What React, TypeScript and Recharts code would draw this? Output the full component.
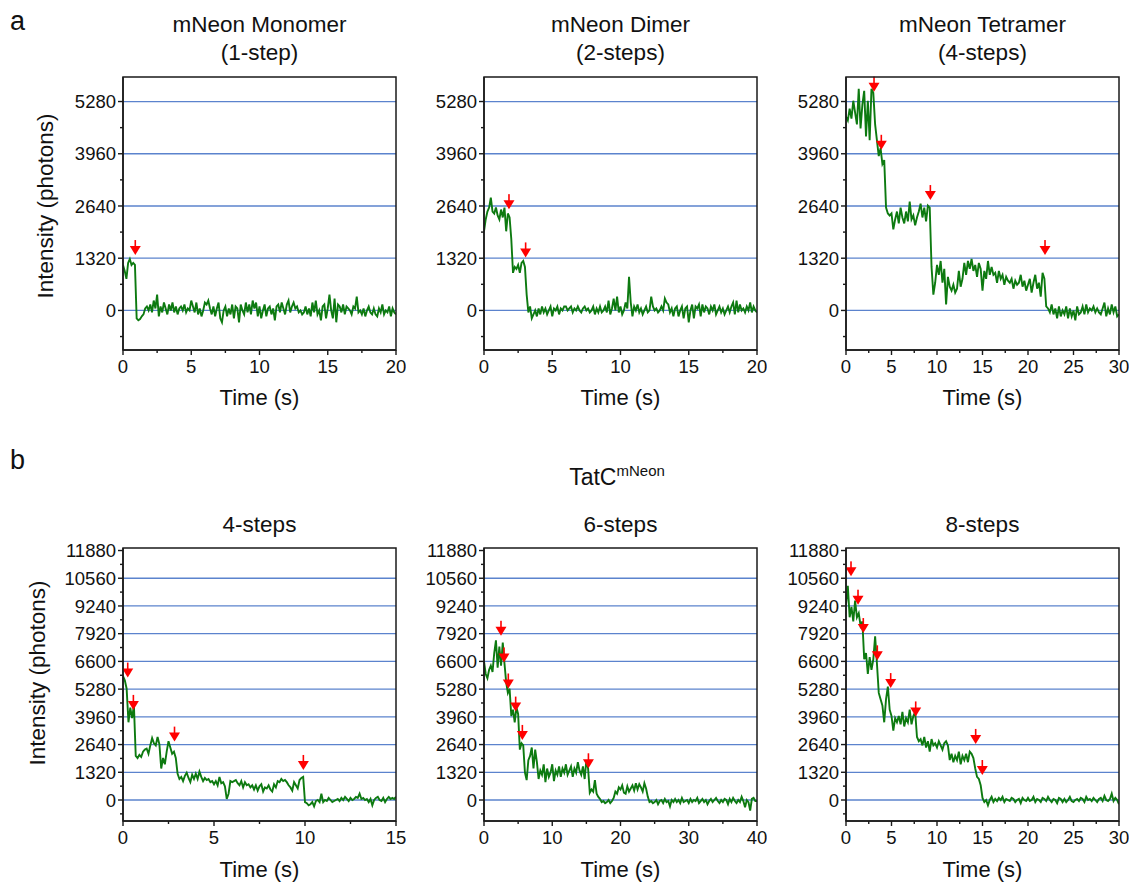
import React from 'react'
import {
  ComposedChart,
  Line,
  XAxis,
  YAxis,
  ReferenceLine,
  ReferenceDot,
} from 'recharts'

// photobleaching traces, photons per frame; time = index * dt
const monomerDt = 0.125
const monomer = [
  1150, 1000, 800, 1200, 1300, 1150, 1200, 1150,
  -200, -250, -220, -150, -100, 50, 100, 0,
  150, -50, 250, 50, 400, -150, 100, -50,
  200, 50, -100, 150, 0, 200, -50, 100,
  -100, 50, 100, 0, 150, -50, 50, 0,
  250, 100, -50, 200, -100, 50, -150, 0,
  200, 150, 250, 50, -100, 100, -150, 50,
  200, -200, -300, 0, 100, -150, 50, -100,
  150, -200, 100, 50, -300, 150, 0, -100,
  200, -50, 150, -100, 250, 50, 200, -150,
  100, -200, 0, 150, -150, 50, 100, -100,
  50, -250, 100, 150, -50, 200, 50, -100,
  150, 250, -50, 100, 200, 50, 100, -50,
  0, -100, -50, 100, -100, 50, -150, 200,
  -50, 250, -100, 0, -250, 100, 150, -200,
  50, 400, 0, -200, 300, -300, 150, 100,
  -50, 150, -100, 100, 50, 0, -100, 100,
  50, 350, -50, 0, -100, 50, -150, 0,
  100, -50, -100, 50, -100, -150, 50, -50,
  150, -100, 0, -50, 100, -150, 50, -50,
  -100,
]

const dimerDt = 0.125
const dimer = [
  2000, 2300, 2500, 2600, 2850, 2500, 2450, 2600,
  2400, 2300, 2550, 2350, 2600, 2000, 2450, 2350,
  1800, 950, 1100, 1050, 1150, 950, 1200, 1250,
  1100, 400, -50, 100, -200, -100, 0, -150,
  50, -100, 100, -50, 50, -100, 0, 100,
  -150, 50, 0, 100, -100, 50, 0, 100,
  100, 0, 50, 100, -50, 50, 0, 100,
  0, -50, 50, 100, 0, 50, -50, 0,
  100, -100, 50, -50, 100, -50, 0, 100,
  -50, 250, -100, 50, 300, 0, 350, -50,
  100, -100, 0, 200, 50, 850, 200, -150,
  100, 0, 150, -50, 50, -100, 0, 100,
  -50, 0, 350, 100, 0, 50, -50, 0,
  100, 0, 300, 200, 150, -50, 50, -150,
  50, 100, -150, 0, 100, -200, 50, 100,
  -300, 0, 150, -200, 100, 50, 150, -150,
  150, -50, 100, 50, -100, 100, 0, 150,
  -100, 0, 100, -50, 50, -100, 0, 100,
  -50, 100, 200, -100, 250, -50, 150, 0,
  50, -50, 100, 0, 200, -50, 100, 0,
  -50,
]

const tetramerDt = 0.2
const tetramer = [
  4900, 4800, 5100, 4850, 5300,
  5000, 4700, 5600, 4600, 5200,
  5550, 4400, 5300, 4300, 5600,
  5500, 4700, 4300, 3900, 4100,
  3700, 3800, 2600, 2450, 2400,
  2450, 2050, 2300, 2500, 2200,
  2600, 2350, 2200, 2500, 2250,
  2750, 2300, 2400, 2150, 2350,
  2500, 2700, 2350, 2600, 2250,
  2650, 2600, 1100, 400, 700,
  1150, 900, 1250, 700, 1050,
  150, 850, 600, 500, 650,
  450, 550, 1000, 600, 800,
  1200, 900, 1250, 1050, 1300,
  1000, 1150, 850, 1200, 1050,
  500, 1000, 800, 1250, 900,
  1100, 900, 950, 700, 1000,
  800, 900, 650, 850, 750,
  700, 800, 550, 750, 650,
  700, 900, 600, 750, 500,
  650, 800, 450, 700, 900,
  550, 700, 350, 950, 800,
  100, 50, -50, 150, -100,
  50, -200, 100, -150, 0,
  -100, 100, -200, 50, -150,
  0, -250, 100, -100, -50,
  100, -100, 150, -50, 50,
  0, 100, -50, 50, -50,
  -100, 50, 200, -150, 50,
  -100, 150, -50, 100, -150,
  -100,
]

const tat4Dt = 0.1
const tat4 = [
  5900, 5700, 5300, 3700, 4400, 3900, 4500, 2100, 2000, 2150,
  2050, 2300, 2400, 2450, 2200, 2600, 2950, 2700, 2600, 3000,
  2650, 1500, 2000, 1700, 2300, 2800, 2500, 2200, 2300, 2000,
  1250, 1000, 1100, 900, 1150, 1300, 1050, 850, 1200, 1000,
  1250, 1000, 1350, 1100, 900, 1050, 950, 1000, 850, 900,
  750, 900, 700, 1100, 800, 850, 650, 50, 300, 900,
  850, 900, 950, 800, 700, 900, 600, 850, 700, 750,
  600, 700, 500, 700, 450, 650, 750, 400, 600, 550,
  700, 500, 400, 750, 600, 900, 850, 1000, 900, 950,
  850, 700, 600, 450, 850, 700, 550, 950, 1050, 1100,
  -100, -150, -250, -200, -100, -300, -50, 0, -100, 300,
  -100, 0, -50, 100, 0, -100, -50, 0, 50, -50,
  100, 0, 150, 50, -50, 100, 0, 50, 150, 100,
  300, 50, 100, 0, 50, -100, 50, -250, 0, 100,
  150, 0, -50, 100, -100, 50, 150, 50, 100, 50,
  150,
]

const tat6Dt = 0.25
const tat6 = [
  6600, 6000, 5800, 6200, 6400, 6100, 7000, 7600,
  6300, 7300, 6400, 7500, 6500, 5600, 5100, 5300,
  4000, 4300, 3700, 4400, 4100, 2400, 2700, 2600,
  1300, 950, 1900, 2100, 2500, 1500, 2400, 1800,
  1000, 1400, 1200, 1700, 850, 1500, 1100, 1300,
  1700, 900, 1400, 1200, 1600, 1100, 1500, 1300,
  1700, 1200, 1400, 1600, 1100, 1500, 1300, 1800,
  1400, 1200, 1600, 1000, 1900, 1500, 350, 500,
  400, 950, 300, 150, 50, -100, -50, -150,
  -100, 0, -150, -50, 100, 400, 300, 600,
  500, 700, 350, 300, 650, 400, 550, 700,
  450, 800, 500, 750, 600, 400, 800, 550,
  150, -100, -50, -150, -100, 0, -200, -50,
  0, -150, 50, -100, -50, -300, 0, -100,
  50, -100, 0, -150, 100, -100, -50, 0,
  -150, 50, -100, 0, -50, 100, -150, -50,
  50, -100, 0, -200, -50, 50, -100, 0,
  100, -50, -150, 0, -100, 50, 0, -200,
  50, -100, 100, -50, -150, 0, -100, 150,
  -50, -350, 0, -100, -500, 50, 100, -50,
  -50,
]

const tat8Dt = 0.2
const tat8 = [
  9300, 10200, 8700, 9200, 8500,
  9500, 8700, 8900, 8300, 8500,
  6700, 7000, 6000, 6800, 6200,
  6700, 7800, 6500, 5100, 4800,
  4500, 3700, 4800, 5400, 4300,
  4000, 3300, 3900, 3700, 4000,
  3600, 4200, 3500, 3900, 3700,
  4300, 3600, 4000, 4200, 3000,
  2800, 2900, 2600, 3000, 2500,
  2800, 2300, 2900, 2600, 2700,
  2500, 2800, 2600, 2400, 2700,
  2800, 2600, 1900, 2200, 1800,
  2100, 1900, 2300, 1700, 2100,
  1900, 2200, 1800, 2300, 2200,
  2000, 1500, 1100, 1000, 700,
  100, -100, 0, -250, 0,
  150, -100, 50, -50, 100,
  0, 150, -100, 50, 0,
  -50, 100, 50, -100, 0,
  50, -150, 100, 0, -50,
  100, -50, 0, 150, -100,
  50, 0, -100, 100, 50,
  -50, 150, 0, -100, 50,
  0, -150, 100, 50, -100,
  50, -100, 0, 150, -50,
  -100, 0, 50, -50, 100,
  50, -100, 150, 0, 50,
  -50, 100, 0, -100, 50,
  100, -50, 200, 0, -50,
  50, 300, -50, 100, 0,
  -200,
]

// red arrows marking the bleaching steps (time, intensity of arrow tip)
const monomerArrows = [{ t: 0.9, v: 1400 }]
const dimerArrows = [{ t: 1.83, v: 2560 }, { t: 3.05, v: 1340 }]
const tetramerArrows = [
  { t: 3.08, v: 5530 }, { t: 3.88, v: 4060 }, { t: 9.27, v: 2790 }, { t: 21.87, v: 1400 },
]
const tat4Arrows = [
  { t: 0.26, v: 5830 }, { t: 0.57, v: 4290 }, { t: 2.83, v: 2780 }, { t: 9.91, v: 1430 },
]
const tat6Arrows = [
  { t: 2.49, v: 7820 }, { t: 2.93, v: 6550 }, { t: 3.56, v: 5310 },
  { t: 4.64, v: 4210 }, { t: 5.62, v: 2860 }, { t: 15.3, v: 1510 },
]
const tat8Arrows = [
  { t: 0.55, v: 10650 }, { t: 1.32, v: 9300 }, { t: 1.9, v: 7950 }, { t: 3.44, v: 6650 },
  { t: 4.91, v: 5330 }, { t: 7.66, v: 3980 }, { t: 14.25, v: 2670 }, { t: 14.98, v: 1190 },
]

// axes
const gridA = [0, 1320, 2640, 3960, 5280]
const gridB = [0, 1320, 2640, 3960, 5280, 6600, 7920, 9240, 10560]
const yTicksA = [-660, 0, 660, 1320, 1980, 2640, 3300, 3960, 4620, 5280]
const yTicksB = [
  -660, 0, 660, 1320, 1980, 2640, 3300, 3960, 4620, 5280, 5940, 6600,
  7260, 7920, 8580, 9240, 9900, 10560, 11220, 11880,
]
const xTicks20 = [0, 2.5, 5, 7.5, 10, 12.5, 15, 17.5, 20]
const xTicks30 = [0, 2.5, 5, 7.5, 10, 12.5, 15, 17.5, 20, 22.5, 25, 27.5, 30]
const xTicks15 = [0, 2.5, 5, 7.5, 10, 12.5, 15]
const xTicks40 = [0, 5, 10, 15, 20, 25, 30, 35, 40]

const titlesA = [
  ['mNeon Monomer', '(1-step)'],
  ['mNeon Dimer', '(2-steps)'],
  ['mNeon Tetramer', '(4-steps)'],
]
const titlesB = ['4-steps', '6-steps', '8-steps']

const FONT = '"Liberation Sans", Arial, Helvetica, sans-serif'
const GREEN = '#0d7a10'
const BLUE = '#5b83cd'
const INK = '#1a1a1a'
const PLOT = 273
const colLeft = [123, 484, 846]
const rowTop = [77, 548]

function YTick(props: any) {
  const { x, y, payload, major } = props
  const isMajor = Math.abs(payload.value % major) < 1e-6
  return (
    <g>
      <rect x={x - (isMajor ? 5 : 3)} y={y - 0.7} width={isMajor ? 5 : 3} height={1.4} fill={INK} />
      {isMajor && (
        <text x={x - 7} y={y} dy="0.36em" textAnchor="end" fontSize={18.5} fill="#111" fontFamily={FONT}>
          {payload.value}
        </text>
      )}
    </g>
  )
}

function XTick(props: any) {
  const { x, y, payload, major } = props
  const isMajor = Math.abs(payload.value % major) < 1e-6
  return (
    <g>
      <rect x={x - 0.7} y={y} width={1.4} height={isMajor ? 5 : 3} fill={INK} />
      {isMajor && (
        <text x={x} y={y + 23} textAnchor="middle" fontSize={18.5} fill="#111" fontFamily={FONT}>
          {payload.value}
        </text>
      )}
    </g>
  )
}

function Arrow(props: any) {
  const { cx, cy } = props
  return (
    <g>
      <rect x={cx - 0.8} y={cy - 15} width={1.6} height={7} fill="#ff0000" />
      <path d={`M${cx - 5.5},${cy - 9} L${cx + 5.5},${cy - 9} L${cx},${cy} Z`} fill="#ff0000" />
    </g>
  )
}

interface PanelProps {
  values: number[]
  dt: number
  xMax: number
  xTicks: number[]
  xMajor: number
  yDomain: [number, number]
  yTicks: number[]
  grid: number[]
  arrows: { t: number; v: number }[]
  left: number
  top: number
}

function Panel({ values, dt, xMax, xTicks, xMajor, yDomain, yTicks, grid, arrows, left, top }: PanelProps) {
  const data = values.map((v, i) => ({ t: +(i * dt).toFixed(3), v }))
  return (
    <div style={{ position: 'absolute', left: left - 70, top: top - 10 }}>
      <ComposedChart
        width={PLOT + 80}
        height={PLOT + 40}
        data={data}
        margin={{ top: 10, right: 10, left: 10, bottom: 0 }}
      >
        <XAxis
          type="number"
          dataKey="t"
          domain={[0, xMax]}
          ticks={xTicks}
          interval={0}
          height={30}
          axisLine={{ stroke: INK, strokeWidth: 1.5 }}
          tickLine={false}
          tickSize={0}
          tickMargin={0}
          allowDataOverflow
          tick={(p: any) => <XTick {...p} major={xMajor} />}
        />
        <YAxis
          type="number"
          domain={yDomain}
          ticks={yTicks}
          interval={0}
          width={60}
          axisLine={{ stroke: INK, strokeWidth: 1.5 }}
          tickLine={false}
          tickSize={0}
          tickMargin={0}
          allowDataOverflow
          tick={(p: any) => <YTick {...p} major={1320} />}
        />
        <XAxis xAxisId="top" orientation="top" type="number" domain={[0, xMax]} height={0} tick={false} axisLine={{ stroke: INK, strokeWidth: 1.5 }} />
        <YAxis yAxisId="right" orientation="right" type="number" domain={yDomain} width={0} tick={false} axisLine={{ stroke: INK, strokeWidth: 1.5 }} />
        {grid.map((g) => (
          <ReferenceLine key={g} y={g} stroke={BLUE} strokeWidth={1.3} />
        ))}
        <Line
          type="linear"
          dataKey="v"
          stroke={GREEN}
          strokeWidth={1.9}
          dot={false}
          isAnimationActive={false}
        />
        {arrows.map((a, i) => (
          <ReferenceDot key={i} x={a.t} y={a.v} r={0} ifOverflow="visible" shape={(p: any) => <Arrow {...p} />} />
        ))}
      </ComposedChart>
    </div>
  )
}

export default function App() {
  const domA: [number, number] = [-1000, 5900]
  const domB: [number, number] = [-1000, 12000]
  const center = (c: number) => colLeft[c] + PLOT / 2
  return (
    <div style={{ position: 'absolute', left: 0, top: 0, width: 1134, height: 883, background: '#fff' }}>
      <Panel values={monomer} dt={monomerDt} xMax={20} xTicks={xTicks20} xMajor={5} yDomain={domA} yTicks={yTicksA} grid={gridA} arrows={monomerArrows} left={colLeft[0]} top={rowTop[0]} />
      <Panel values={dimer} dt={dimerDt} xMax={20} xTicks={xTicks20} xMajor={5} yDomain={domA} yTicks={yTicksA} grid={gridA} arrows={dimerArrows} left={colLeft[1]} top={rowTop[0]} />
      <Panel values={tetramer} dt={tetramerDt} xMax={30} xTicks={xTicks30} xMajor={5} yDomain={domA} yTicks={yTicksA} grid={gridA} arrows={tetramerArrows} left={colLeft[2]} top={rowTop[0]} />
      <Panel values={tat4} dt={tat4Dt} xMax={15} xTicks={xTicks15} xMajor={5} yDomain={domB} yTicks={yTicksB} grid={gridB} arrows={tat4Arrows} left={colLeft[0]} top={rowTop[1]} />
      <Panel values={tat6} dt={tat6Dt} xMax={40} xTicks={xTicks40} xMajor={10} yDomain={domB} yTicks={yTicksB} grid={gridB} arrows={tat6Arrows} left={colLeft[1]} top={rowTop[1]} />
      <Panel values={tat8} dt={tat8Dt} xMax={30} xTicks={xTicks30} xMajor={5} yDomain={domB} yTicks={yTicksB} grid={gridB} arrows={tat8Arrows} left={colLeft[2]} top={rowTop[1]} />

      <svg width={1134} height={883} style={{ position: 'absolute', left: 0, top: 0, pointerEvents: 'none' }} fontFamily={FONT} fill="#111">
        {/* plot frames */}
        {rowTop.map((t) =>
          colLeft.map((l) => (
            <rect key={`${l}-${t}`} x={l} y={t} width={PLOT} height={PLOT} fill="none" stroke={INK} strokeWidth={1.5} />
          ))
        )}
        <text x={10} y={30} fontSize={27}>a</text>
        <text x={10} y={469} fontSize={27}>b</text>
        {titlesA.map((lines, c) => (
          <g key={c}>
            <text x={center(c)} y={32} fontSize={22.5} textAnchor="middle">{lines[0]}</text>
            <text x={center(c)} y={60} fontSize={22.5} textAnchor="middle">{lines[1]}</text>
            <text x={center(c)} y={405} fontSize={22} textAnchor="middle">Time (s)</text>
          </g>
        ))}
        <text x={617} y={485} fontSize={23} textAnchor="middle">
          <tspan>TatC</tspan>
          <tspan fontSize={15} dy={-9}>mNeon</tspan>
        </text>
        {titlesB.map((t, c) => (
          <g key={c}>
            <text x={center(c)} y={532} fontSize={22.5} textAnchor="middle">{t}</text>
            <text x={center(c)} y={877} fontSize={22} textAnchor="middle">Time (s)</text>
          </g>
        ))}
        <text x={53} y={206} fontSize={22.5} textAnchor="middle" transform="rotate(-90 53 206)">Intensity (photons)</text>
        <text x={45} y={673} fontSize={22.5} textAnchor="middle" transform="rotate(-90 45 673)">Intensity (photons)</text>
      </svg>
    </div>
  )
}
